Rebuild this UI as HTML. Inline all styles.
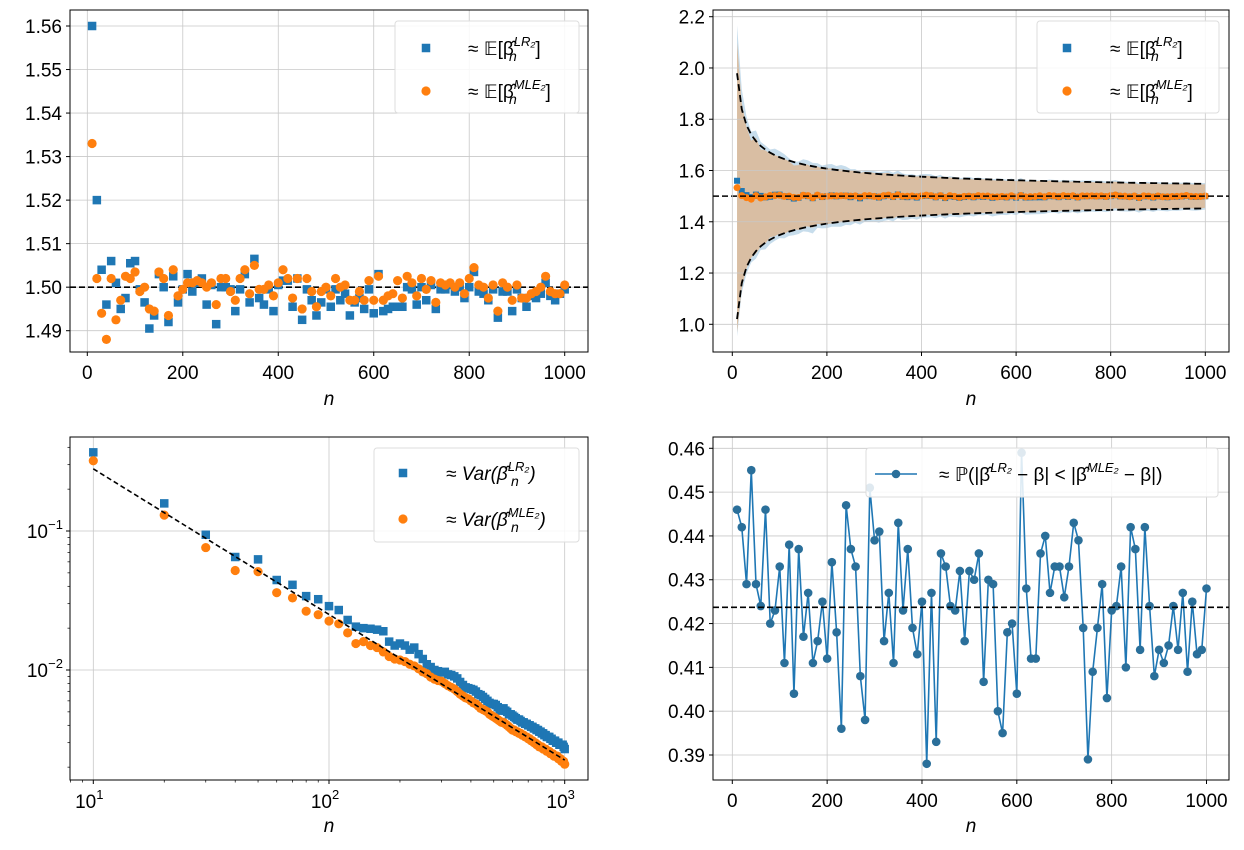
<!DOCTYPE html>
<html><head><meta charset="utf-8"><style>
html,body{margin:0;padding:0;background:#fff;}
svg{display:block;font-family:"Liberation Sans","DejaVu Sans",sans-serif;}
</style></head><body>
<svg id="fig" width="1244" height="850" viewBox="0 0 1244 850" xmlns="http://www.w3.org/2000/svg">
<defs>
<clipPath id="c1"><rect x="70" y="10" width="518" height="342"/></clipPath>
<clipPath id="c2"><rect x="713" y="10" width="516" height="342"/></clipPath>
<clipPath id="c3"><rect x="70" y="437" width="518" height="343"/></clipPath>
<clipPath id="c4"><rect x="713" y="437" width="516" height="343"/></clipPath>
</defs>
<g id="p1"></g>
<g id="p2"></g>
<g id="p3"></g>
<g id="p4"></g>
</svg>
<script>
const nValues=[10,20,30,40,50,60,70,80,90,100,110,120,130,140,150,160,170,180,190,200,210,220,230,240,250,260,270,280,290,300,310,320,330,340,350,360,370,380,390,400,410,420,430,440,450,460,470,480,490,500,510,520,530,540,550,560,570,580,590,600,610,620,630,640,650,660,670,680,690,700,710,720,730,740,750,760,770,780,790,800,810,820,830,840,850,860,870,880,890,900,910,920,930,940,950,960,970,980,990,1000];
const meanLR=[1.560,1.520,1.504,1.496,1.506,1.501,1.495,1.4975,1.5055,1.506,1.4995,1.4965,1.4905,1.4935,1.503,1.500,1.492,1.5025,1.4965,1.4995,1.503,1.499,1.501,1.502,1.496,1.5005,1.4915,1.500,1.500,1.4995,1.4945,1.4995,1.503,1.4965,1.5065,1.4975,1.496,1.4995,1.4945,1.5005,1.5015,1.5015,1.4955,1.502,1.4925,1.4995,1.497,1.4935,1.4965,1.4995,1.4955,1.4995,1.497,1.4985,1.4935,1.4965,1.4975,1.495,1.4995,1.494,1.503,1.4945,1.495,1.4955,1.4955,1.4955,1.500,1.4995,1.496,1.500,1.497,1.5005,1.495,1.4995,1.4995,1.5005,1.499,1.500,1.4975,1.500,1.5035,1.499,1.4985,1.497,1.4995,1.493,1.499,1.499,1.4945,1.4995,1.4975,1.4955,1.498,1.4975,1.4985,1.501,1.498,1.497,1.4985,1.4995];
const meanMLE=[1.533,1.502,1.494,1.488,1.502,1.4925,1.497,1.5025,1.502,1.5035,1.499,1.500,1.495,1.4945,1.5035,1.502,1.4935,1.504,1.498,1.4995,1.501,1.501,1.5015,1.501,1.500,1.501,1.496,1.502,1.502,1.499,1.497,1.502,1.504,1.4985,1.505,1.4995,1.4995,1.5005,1.498,1.501,1.504,1.502,1.4975,1.502,1.495,1.502,1.499,1.4955,1.499,1.500,1.498,1.502,1.500,1.5005,1.497,1.497,1.499,1.497,1.5015,1.497,1.5025,1.497,1.498,1.4985,1.5015,1.4975,1.5025,1.501,1.498,1.502,1.4995,1.5015,1.4965,1.501,1.5005,1.501,1.500,1.501,1.4985,1.502,1.5045,1.5005,1.500,1.4975,1.5005,1.4945,1.501,1.500,1.497,1.5005,1.4975,1.4975,1.4985,1.499,1.500,1.5025,1.499,1.4985,1.4985,1.5005];
const varLR=[0.368,0.158,0.094,0.065,0.0625,0.0444,0.041,0.034,0.0323,0.0288,0.027,0.0229,0.0205,0.020,0.0198,0.0195,0.019,0.016,0.015,0.0155,0.015,0.014,0.0145,0.013,0.012,0.011,0.0105,0.0100,0.0098,0.0096,0.0097,0.0093,0.0092,0.0090,0.0087,0.0082,0.0078,0.0075,0.0074,0.0073,0.0072,0.0070,0.0067,0.0066,0.0064,0.0062,0.0060,0.0058,0.0057,0.0057,0.0056,0.0054,0.0052,0.0051,0.0053,0.0051,0.0050,0.0048,0.0048,0.0047,0.0046,0.0045,0.0044,0.0044,0.0043,0.0042,0.0042,0.0041,0.0041,0.0040,0.0040,0.0039,0.0039,0.0038,0.0038,0.0037,0.0037,0.0036,0.0036,0.0035,0.0035,0.0034,0.0034,0.0033,0.0033,0.0033,0.0032,0.0032,0.0031,0.0031,0.0031,0.0030,0.0030,0.0030,0.0029,0.0029,0.0029,0.0029,0.0028,0.0027];
const varMLE=[0.320,0.130,0.076,0.052,0.051,0.036,0.033,0.0265,0.025,0.0225,0.0215,0.0185,0.0155,0.016,0.015,0.0145,0.0135,0.0125,0.012,0.0118,0.0115,0.011,0.0107,0.0102,0.0097,0.0094,0.0089,0.0086,0.0084,0.0083,0.0080,0.0077,0.0075,0.0073,0.0070,0.0067,0.0065,0.0063,0.0062,0.0060,0.0058,0.0057,0.0055,0.0053,0.0052,0.0051,0.0050,0.0048,0.0047,0.0046,0.0045,0.0044,0.0043,0.0042,0.0042,0.0041,0.0040,0.0039,0.0038,0.0037,0.0037,0.0036,0.0036,0.0035,0.0035,0.0034,0.0034,0.0033,0.0033,0.0032,0.0032,0.0031,0.0031,0.0030,0.0030,0.0029,0.0029,0.0028,0.0028,0.0028,0.0027,0.0027,0.0027,0.0026,0.0026,0.0026,0.0025,0.0025,0.0025,0.0024,0.0024,0.0024,0.0024,0.0023,0.0023,0.0023,0.0022,0.0022,0.0022,0.0021];
const probLess=[0.446,0.442,0.429,0.455,0.429,0.424,0.446,0.420,0.423,0.433,0.411,0.438,0.404,0.437,0.417,0.427,0.411,0.416,0.425,0.412,0.434,0.418,0.396,0.447,0.437,0.433,0.408,0.398,0.451,0.439,0.441,0.416,0.427,0.411,0.443,0.423,0.437,0.419,0.413,0.425,0.388,0.427,0.393,0.436,0.433,0.424,0.423,0.432,0.416,0.432,0.430,0.436,0.4067,0.430,0.429,0.400,0.395,0.418,0.420,0.404,0.459,0.428,0.412,0.412,0.436,0.440,0.427,0.433,0.433,0.426,0.433,0.443,0.439,0.419,0.389,0.409,0.419,0.429,0.403,0.423,0.424,0.433,0.410,0.442,0.437,0.414,0.442,0.424,0.408,0.414,0.411,0.415,0.424,0.414,0.427,0.409,0.425,0.413,0.414,0.428];
const trueBeta=1.5;
const theoryVarConst=2.3;
const refLineN=[10,1000];
const refLineVar=[0.28,0.00225];
const probRef=0.4237;
const xTicksLin=[0,200,400,600,800,1000];
const yTicks1=[1.49,1.50,1.51,1.52,1.53,1.54,1.55,1.56];
const yTickLabels1=["1.49","1.50","1.51","1.52","1.53","1.54","1.55","1.56"];
const yTicks2=[1.0,1.2,1.4,1.6,1.8,2.0,2.2];
const yTickLabels2=["1.0","1.2","1.4","1.6","1.8","2.0","2.2"];
const yTicks4=[0.39,0.40,0.41,0.42,0.43,0.44,0.45,0.46];
const yTickLabels4=["0.39","0.40","0.41","0.42","0.43","0.44","0.45","0.46"];
const xTicksLog=[1,2,3];
const yTicksLog=[-1,-2];

const NS="http://www.w3.org/2000/svg";
const BLUE="#1f77b4",ORANGE="#ff7f0e",GRID="#c8c8c8";
function mk(tag,attrs,parent){const e=document.createElementNS(NS,tag);for(const k in attrs)e.setAttribute(k,attrs[k]);if(parent)parent.appendChild(e);return e;}

const X1=n=>87.3+n*0.4774, Y1=v=>26+(1.56-v)/0.07*304.7;
const X2=n=>732.3+n*0.473, Y2=v=>16.7+(2.2-v)/1.2*307.6;
const X3=n=>93.3+(Math.log10(n)-1)*235.7, Y3=v=>531+(-1-Math.log10(v))*139;
const X4=n=>732.3+n*0.4742, Y4=v=>448.3+(0.46-v)/0.07*306.7;

function frame(g,L,T,R,B){
  const r=mk('rect',{x:L,y:T,width:R-L,height:B-T,fill:'none',stroke:'#000','stroke-width':1},g);
  
  
}
function xTickLin(g,X,T,B,ticks){
  ticks.forEach(t=>{const x=X(t);
    const gl=mk('line',{x1:x,x2:x,y1:T,y2:B,stroke:GRID,'stroke-width':0.8},g);
    
    
    mk('line',{x1:x,x2:x,y1:B,y2:B+4,stroke:'#000'},g);
    const tx=mk('text',{x:x,y:B+27,'font-size':19,'text-anchor':'middle'},g);tx.textContent=String(t);
    
    
  });
}
function yTickLin(g,Y,L,R,ticks,labels){
  ticks.forEach((t,i)=>{const y=Y(t);
    const gl=mk('line',{x1:L,x2:R,y1:y,y2:y,stroke:GRID,'stroke-width':0.8},g);
    
    
    mk('line',{x1:L-4,x2:L,y1:y,y2:y,stroke:'#000'},g);
    const tx=mk('text',{x:L-8,y:y+7,'font-size':19,'text-anchor':'end'},g);tx.textContent=labels[i];
    
    
  });
}
function xLabel(g,x,y){const t=mk('text',{x:x,y:y,'font-size':19,'font-style':'italic','text-anchor':'middle'},g);t.textContent='n';
  
  }
function square(g,x,y,s,c){return mk('rect',{x:x-s/2,y:y-s/2,width:s,height:s,fill:c},g);}
function circle(g,x,y,r,c){return mk('circle',{cx:x,cy:y,r:r,fill:c},g);}
function legendBox(g,x,y,w,h){const r=mk('rect',{x:x,y:y,width:w,height:h,fill:'#fff','fill-opacity':0.85,stroke:'#ddd',rx:3},g);
  
  }
function betaLabel(g,x,y,pre,sup,post,nx){
  const t=mk('text',{x:x,y:y,'font-size':19},g);
  
  
  const a=mk('tspan',{},t);a.textContent=pre+'[β\u0302';
  const s=mk('tspan',{'font-size':13,dy:-9,'font-style':'italic'},t);s.textContent=sup;
  const b=mk('tspan',{'font-size':19,dy:9},t);b.textContent=post;
  const nn=mk('text',{x:nx,y:y+6,'font-size':14,'font-style':'italic'},g);
  nn.textContent='n';
  
  
  return [t,nn];
}

/* ---------------- Panel 1 ---------------- */
(function(){
const g=document.getElementById('p1');
yTickLin(g,Y1,70,588,yTicks1,yTickLabels1);
xTickLin(g,X1,10,352,xTicksLin);
const c=mk('g',{'clip-path':'url(#c1)'},g);
const ref=mk('line',{x1:70,x2:588,y1:Y1(trueBeta),y2:Y1(trueBeta),stroke:'#000','stroke-width':1.6,'stroke-dasharray':'6,3'},c);


nValues.forEach((n,i)=>{const s=square(c,X1(n),Y1(meanLR[i]),8.5,BLUE);
  
  });
nValues.forEach((n,i)=>{const s=circle(c,X1(n),Y1(meanMLE[i]),4.6,ORANGE);
  
  });
frame(g,70,10,588,352);
xLabel(g,329,405);
legendBox(g,395,21,184,92);
square(g,426,48,8.5,BLUE);circle(g,426,91,4.6,ORANGE);
betaLabel(g,468,55,'≈ 𝔼','LR₂',']',509);
betaLabel(g,468,98,'≈ 𝔼','MLE₂',']',509);
})();

/* ---------------- Panel 2 ---------------- */
(function(){
const g=document.getElementById('p2');
const c=mk('g',{'clip-path':'url(#c2)'},g);
function band(mean,vr,col,name,op){
  let up='',lo='';
  nValues.forEach((n,i)=>{const sd=Math.sqrt(vr[i]);up+=(i?'L':'M')+X2(n)+','+Y2(mean[i]+sd);});
  for(let i=nValues.length-1;i>=0;i--){const sd=Math.sqrt(vr[i]);lo+='L'+X2(nValues[i])+','+Y2(mean[i]-sd);}
  const p=mk('path',{d:up+lo+'Z',fill:col,'fill-opacity':op,stroke:'none'},c);
  
  
}
band(meanLR,varLR,BLUE,'lr-std-band',0.25);
band(meanMLE,varMLE,ORANGE,'mle-std-band',0.33);
yTickLin(c,Y2,713,1229,yTicks2,yTickLabels2);
xTickLin(g,X2,10,352,xTicksLin);
yTicks2.forEach((t,i)=>{const y=Y2(t);mk('line',{x1:709,x2:713,y1:y,y2:y,stroke:'#000'},g);
  const tx=mk('text',{x:705,y:y+7,'font-size':19,'text-anchor':'end'},g);tx.textContent=yTickLabels2[i];
  
  });
let pu='',pl='';
nValues.forEach((n,i)=>{const d=Math.sqrt(theoryVarConst/n);pu+=(i?'L':'M')+X2(n)+','+Y2(trueBeta+d);pl+=(i?'L':'M')+X2(n)+','+Y2(trueBeta-d);});
const u=mk('path',{d:pu,fill:'none',stroke:'#000','stroke-width':1.8,'stroke-dasharray':'7,4'},c);


const l=mk('path',{d:pl,fill:'none',stroke:'#000','stroke-width':1.8,'stroke-dasharray':'7,4'},c);


nValues.forEach((n,i)=>{const s=square(c,X2(n),Y2(meanLR[i]),6,BLUE);
  
  });
nValues.forEach((n,i)=>{const s=circle(c,X2(n),Y2(meanMLE[i]),3.5,ORANGE);
  
  });
const ref=mk('line',{x1:713,x2:1229,y1:Y2(trueBeta),y2:Y2(trueBeta),stroke:'#000','stroke-width':1.6,'stroke-dasharray':'6,3'},c);


frame(g,713,10,1229,352);
xLabel(g,971,405);
legendBox(g,1037,21,182,92);
square(g,1067,48,8.5,BLUE);circle(g,1067,91,4.6,ORANGE);
betaLabel(g,1110,55,'≈ 𝔼','LR₂',']',1151);
betaLabel(g,1110,98,'≈ 𝔼','MLE₂',']',1151);
})();

/* ---------------- Panel 3 ---------------- */
(function(){
const g=document.getElementById('p3');
const L=70,R=588,T=437,B=780;
xTicksLog.forEach(k=>{const x=X3(Math.pow(10,k));
  const gl=mk('line',{x1:x,x2:x,y1:T,y2:B,stroke:GRID,'stroke-width':0.8},g);
  
  
  mk('line',{x1:x,x2:x,y1:B,y2:B+4,stroke:'#000'},g);
  const t=mk('text',{x:x-4,y:B+28,'font-size':19,'text-anchor':'middle'},g);
  
  
  const a=mk('tspan',{},t);a.textContent='10';const s=mk('tspan',{'font-size':13,dy:-9},t);s.textContent=String(k);});
[0,1,2].forEach(k=>{for(let m=2;m<10;m++){const x=X3(m*Math.pow(10,k));if(x>L&&x<R)mk('line',{x1:x,x2:x,y1:B,y2:B+2.5,stroke:'#000','stroke-width':0.7},g);}});
yTicksLog.forEach(k=>{const y=Y3(Math.pow(10,k));
  const gl=mk('line',{x1:L,x2:R,y1:y,y2:y,stroke:GRID,'stroke-width':0.8},g);
  
  
  mk('line',{x1:L-4,x2:L,y1:y,y2:y,stroke:'#000'},g);
  const t=mk('text',{x:L-22,y:y+7,'font-size':19,'text-anchor':'end'},g);
  
  
  t.textContent='10';
  const s=mk('text',{x:L-7,y:y-2,'font-size':13,'text-anchor':'end'},g);s.textContent='−'+String(-k);});
[-3,-2,-1].forEach(k=>{for(let m=2;m<10;m++){const y=Y3(m*Math.pow(10,k));if(y>T&&y<B)mk('line',{x1:L-2.5,x2:L,y1:y,y2:y,stroke:'#000','stroke-width':0.7},g);}});
const c=mk('g',{'clip-path':'url(#c3)'},g);
nValues.forEach((n,i)=>{const s=square(c,X3(n),Y3(varLR[i]),8.5,BLUE);
  
  });
nValues.forEach((n,i)=>{const s=circle(c,X3(n),Y3(varMLE[i]),4.6,ORANGE);
  
  });
const rl=mk('line',{x1:X3(refLineN[0]),y1:Y3(refLineVar[0]),x2:X3(refLineN[1]),y2:Y3(refLineVar[1]),stroke:'#000','stroke-width':1.6,'stroke-dasharray':'5,3'},c);


frame(g,L,T,R,B);
xLabel(g,329,832);
legendBox(g,374,448,205,94);
square(g,403,473,8.5,BLUE);circle(g,403,519,4.6,ORANGE);
const a=betaLabel(g,446,480,'≈ Var(','LR₂',')',511);a[0].setAttribute('font-style','italic');
a[0].firstChild.textContent='≈ Var(β\u0302';
const b=betaLabel(g,446,526,'≈ Var(','MLE₂',')',511);b[0].setAttribute('font-style','italic');
b[0].firstChild.textContent='≈ Var(β\u0302';
})();

/* ---------------- Panel 4 ---------------- */
(function(){
const g=document.getElementById('p4');
yTickLin(g,Y4,713,1229,yTicks4,yTickLabels4);
xTickLin(g,X4,437,780,xTicksLin);
const c=mk('g',{'clip-path':'url(#c4)'},g);
let d='';nValues.forEach((n,i)=>{d+=(i?'L':'M')+X4(n)+','+Y4(probLess[i]);});
const ln=mk('path',{d:d,fill:'none',stroke:BLUE,'stroke-width':1.6},c);


nValues.forEach((n,i)=>{const s=circle(c,X4(n),Y4(probLess[i]),4.3,'#2a6f9a');
  
  });
const ref=mk('line',{x1:713,x2:1229,y1:Y4(probRef),y2:Y4(probRef),stroke:'#000','stroke-width':1.6,'stroke-dasharray':'6,3'},c);


frame(g,713,437,1229,780);
xLabel(g,971,832);
legendBox(g,866,448,352,49);
mk('line',{x1:875,x2:917,y1:474,y2:474,stroke:BLUE,'stroke-width':1.6},g);
circle(g,896,474,4.3,'#2a6f9a');
const t=mk('text',{x:939,y:481,'font-size':19},g);


const p1=mk('tspan',{},t);p1.textContent='≈ ℙ(|β\u0302';
const s1=mk('tspan',{'font-size':13,dy:-9,'font-style':'italic'},t);s1.textContent='LR₂';
const p2=mk('tspan',{dy:9},t);p2.textContent=' − β| < |β\u0302';
const s2=mk('tspan',{'font-size':13,dy:-9,'font-style':'italic'},t);s2.textContent='MLE₂';
const p3=mk('tspan',{dy:9},t);p3.textContent=' − β|)';
})();
</script>
</body></html>
